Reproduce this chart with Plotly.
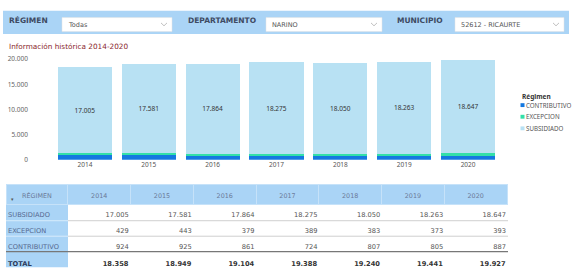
import plotly.graph_objects as go

W, H = 579, 276

years = ["2014", "2015", "2016", "2017", "2018", "2019", "2020"]
subsidiado = [17005, 17581, 17864, 18275, 18050, 18263, 18647]
excepcion = [429, 443, 379, 389, 383, 373, 393]
contributivo = [924, 925, 861, 724, 807, 805, 887]
series_names = ["CONTRIBUTIVO", "EXCEPCION", "SUBSIDIADO"]
series_colors = ["#1478e0", "#33e0a8", "#b8e1f3"]
totals = [a + b + c for a, b, c in zip(subsidiado, excepcion, contributivo)]

filter_labels = ["RÉGIMEN", "DEPARTAMENTO", "MUNICIPIO"]
filter_values = ["Todas", "NARINO", "52612 - RICAURTE"]
title_text = "Información histórica 2014-2020"


def px(x):
    return x / W


def py(y):
    return 1 - y / H


def fmt(v):
    return f"{v:,}".replace(",", ".")


BLUE_BG = "#aad4f6"
CLEAR = "rgba(0,0,0,0)"
CHART_FONT = "Noto Sans"
UI_FONT = "DejaVu Sans"

fig = go.Figure()

series_values = [contributivo, excepcion, subsidiado]
for name, vals, col in zip(series_names, series_values, series_colors):
    fig.add_trace(go.Bar(
        x=years, y=vals, name=name, marker=dict(color=col, line=dict(width=0)),
        showlegend=False,
        texttemplate="%{y:,.0f}" if name == "SUBSIDIADO" else None,
        textposition="inside" if name == "SUBSIDIADO" else "none",
        insidetextanchor="middle",
        textfont=dict(size=6.5, color="#333333", family=CHART_FONT),
        hoverinfo="skip",
    ))

# Table header (own table so the columns line up with the dividers)
header_vals = ["RÉGIMEN"] + years
ncol = len(years) + 1
fig.add_trace(go.Table(
    domain=dict(x=[px(6), px(508)], y=[py(207), py(186)]),
    columnwidth=[62] + [62.86] * len(years),
    header=dict(
        values=header_vals,
        fill=dict(color=BLUE_BG),
        line=dict(color="#c6e2f9", width=1),
        align="center",
        height=20,
        font=dict(family=UI_FONT, size=6.4, color="#6b7a99"),
    ),
    cells=dict(values=[[] for _ in range(ncol)]),
))

# Table body
row_labels = ["SUBSIDIADO", "EXCEPCION", "CONTRIBUTIVO", "<b>TOTAL</b>"]
cell_cols = [row_labels]
for i in range(len(years)):
    cell_cols.append([fmt(subsidiado[i]), fmt(excepcion[i]), fmt(contributivo[i]),
                      "<b>" + fmt(totals[i]) + "</b>"])

fig.add_trace(go.Table(
    domain=dict(x=[0, px(514)], y=[0, py(195)]),
    columnwidth=[74] + [62.86] * len(years),
    header=dict(values=[""] * ncol, height=10, fill=dict(color=CLEAR), line=dict(color=CLEAR, width=0),
                font=dict(size=1, color=CLEAR)),
    cells=dict(
        values=cell_cols,
        fill=dict(color=CLEAR),
        line=dict(color=CLEAR, width=0),
        align=["left"] + ["right"] * len(years),
        height=16,
        font=dict(family=UI_FONT, size=6.7,
                  color=[["#55688f"] * 3 + ["#2d3b5a"]] + [["#555555"] * 3 + ["#333333"]] * len(years)),
    ),
))

shapes = []
# filter band
shapes.append(dict(type="rect", xref="paper", yref="paper", x0=px(3), x1=px(569), y0=py(30), y1=py(6),
                   fillcolor=BLUE_BG, line=dict(width=0), layer="below"))
boxes = [(62, 172), (266, 382), (455, 564)]
label_x = [7, 186, 395]
annotations = []
for (bx0, bx1), lx, lab, val in zip(boxes, label_x, filter_labels, filter_values):
    shapes.append(dict(type="rect", xref="paper", yref="paper", x0=px(bx0), x1=px(bx1), y0=py(27.5), y1=py(13),
                       fillcolor="#ffffff", line=dict(color="#e2e2e2", width=0.5), layer="below"))
    cx, cy = bx1 - 8, 20
    shapes.append(dict(type="path", xref="paper", yref="paper",
                       path=f"M {px(cx-3)},{py(cy-1.5)} L {px(cx)},{py(cy+1.5)} L {px(cx+3)},{py(cy-1.5)}",
                       line=dict(color="#b0b0b0", width=0.8)))
    annotations.append(dict(text="<b>" + lab + "</b>", x=px(lx), y=py(16), xref="paper", yref="paper",
                            xanchor="left", yanchor="middle", showarrow=False,
                            font=dict(family=UI_FONT, size=7.5, color="#3e4a62")))
    annotations.append(dict(text=val, x=px(bx0 + 4), y=py(20.5), xref="paper", yref="paper",
                            xanchor="left", yanchor="middle", showarrow=False,
                            font=dict(family=UI_FONT, size=6.5, color="#555555")))

annotations.append(dict(text=title_text, x=px(7), y=py(43), xref="paper", yref="paper",
                        xanchor="left", yanchor="middle", showarrow=False,
                        font=dict(family=UI_FONT, size=7.3, color="#8a1f2d")))

# legend (manual)
annotations.append(dict(text="<b>Régimen</b>", x=px(520), y=py(95), xref="paper", yref="paper",
                        xanchor="left", yanchor="middle", showarrow=False,
                        font=dict(family=CHART_FONT, size=6.5, color="#333333")))
for i, (name, col) in enumerate(zip(series_names, series_colors)):
    yy = 103.5 + 12 * i
    shapes.append(dict(type="rect", xref="paper", yref="paper", x0=px(520.5), x1=px(524.5),
                       y0=py(yy + 2), y1=py(yy - 2), fillcolor=col, line=dict(width=0)))
    annotations.append(dict(text=name, x=px(524), y=py(yy), xref="paper", yref="paper",
                            xanchor="left", yanchor="middle", showarrow=False,
                            font=dict(family=CHART_FONT, size=6.2, color="#555555")))

# table body backgrounds and row lines
shapes.append(dict(type="rect", xref="paper", yref="paper", x0=px(6), x1=px(68), y0=py(271), y1=py(206),
                   fillcolor=BLUE_BG, line=dict(width=0), layer="below"))
for yy in [223, 239]:
    shapes.append(dict(type="line", xref="paper", yref="paper", x0=px(68), x1=px(508), y0=py(yy), y1=py(yy),
                       line=dict(color="#cfcfcf", width=1), layer="below"))
    shapes.append(dict(type="line", xref="paper", yref="paper", x0=px(6), x1=px(68), y0=py(yy), y1=py(yy),
                       line=dict(color="#d8ecfb", width=1), layer="below"))
shapes.append(dict(type="line", xref="paper", yref="paper", x0=px(6), x1=px(508), y0=py(255), y1=py(255),
                   line=dict(color="#777777", width=1.2), layer="below"))
annotations.append(dict(text="▾", x=px(12), y=py(201), xref="paper", yref="paper",
                        xanchor="center", yanchor="middle", showarrow=False,
                        font=dict(family=UI_FONT, size=5, color="#555555")))

fig.update_layout(
    width=W, height=H,
    margin=dict(l=0, r=0, t=0, b=0),
    paper_bgcolor="#ffffff", plot_bgcolor="#ffffff",
    barmode="stack", bargap=0.154,
    separators=",.",
    showlegend=False,
    xaxis=dict(domain=[px(53), px(500)], showgrid=False, showline=False, zeroline=False,
               ticks="", tickfont=dict(family=CHART_FONT, size=6.5, color="#555555")),
    yaxis=dict(domain=[py(160), py(56)], range=[0, 20000], showgrid=False, zeroline=False,
               showline=False, tickvals=[0, 5000, 10000, 15000, 20000], tickformat=",.0f",
               ticklabelstandoff=24,
               tickfont=dict(family=CHART_FONT, size=6.5, color="#666666")),
    shapes=shapes,
    annotations=annotations,
)

fig.write_html("out.html", config={"displayModeBar": False},
               post_script="document.body.style.margin='0';document.body.style.overflow='hidden';")
